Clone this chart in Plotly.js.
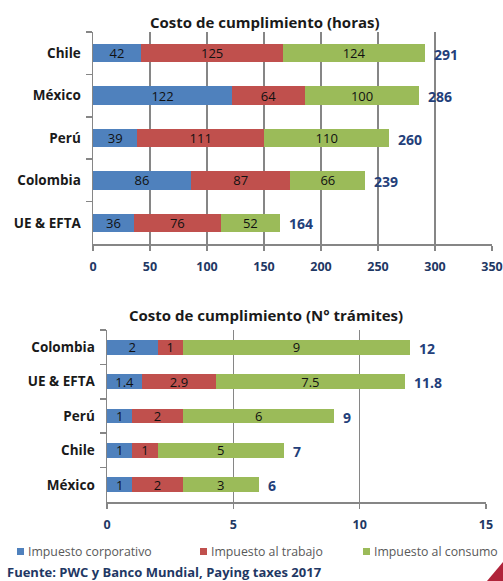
<!DOCTYPE html>
<html><head><meta charset="utf-8">
<script src="https://cdn.plot.ly/plotly-3.0.1.min.js"></script>
<style>body{margin:0;background:#fff}#c{width:503px;height:581px}</style>
</head><body><div id="c"></div>
<script>
// Chart 1: compliance cost in hours
const catsHoras = ["Chile", "México", "Perú", "Colombia", "UE & EFTA"];
const corpHoras = [42, 122, 39, 86, 36];
const trabHoras = [125, 64, 111, 87, 76];
const consHoras = [124, 100, 110, 66, 52];
const totHoras = [291, 286, 260, 239, 164];
// Chart 2: number of procedures
const catsTram = ["Colombia", "UE & EFTA", "Perú", "Chile", "México"];
const corpTram = [2, 1.4, 1, 1, 1];
const trabTram = [1, 2.9, 2, 1, 2];
const consTram = [9, 7.5, 6, 5, 3];
const totTram = [12, 11.8, 9, 7, 6];
const seriesNames = ["Impuesto corporativo", "Impuesto al trabajo", "Impuesto al consumo"];
const ticksHoras = [0, 50, 100, 150, 200, 250, 300, 350];
const ticksTram = [0, 5, 10, 15];

const colors = ["#4F81BD", "#C0504D", "#9BBB59"];
const F = "'Open Sans', sans-serif";
const dark = "#1a1a1a";
const navy = "#1F3864";
const totColor = "#243F7A";

function barTrace(cats, vals, i, xa, ya) {
  return {
    type: "bar", orientation: "h", y: cats, x: vals, name: seriesNames[i],
    xaxis: xa, yaxis: ya, marker: {color: colors[i], line: {width: 0}},
    text: vals.map(String), textposition: "inside", insidetextanchor: "middle", textangle: 0,
    textfont: {family: F, size: 13, color: "#111"}, constraintext: "none",
    showlegend: false, hoverinfo: "x+y+name"
  };
}

const data = [
  barTrace(catsHoras, corpHoras, 0, "x", "y"),
  barTrace(catsHoras, trabHoras, 1, "x", "y"),
  barTrace(catsHoras, consHoras, 2, "x", "y"),
  barTrace(catsTram, corpTram, 0, "x2", "y2"),
  barTrace(catsTram, trabTram, 1, "x2", "y2"),
  barTrace(catsTram, consTram, 2, "x2", "y2")
];

const H = 581, W = 503;
const px = v => v / W, py = v => 1 - v / H;

const xCommon = {showgrid: true, gridcolor: "#868686", gridwidth: 1.5, zeroline: false,
  showline: true, linecolor: "#868686", linewidth: 1.5, ticks: "outside", ticklen: 5,
  tickcolor: "#868686", tickwidth: 1.5, fixedrange: true, ticklabelstandoff: 5,
  tickfont: {family: F, size: 12.5, color: navy, weight: "bold"}};
const yCommon = {type: "category", autorange: "reversed", showline: true, linecolor: "#868686",
  linewidth: 1.5, ticks: "outside", tickson: "boundaries", ticklen: 6, tickcolor: "#868686",
  tickwidth: 1.5, showgrid: false, fixedrange: true, ticklabelstandoff: 8,
  tickfont: {family: F, size: 13.5, color: dark, weight: "bold"}};

const totalAnn = (cats, tots, xr, yr) => cats.map((c, k) => ({
  text: String(tots[k]), x: tots[k], y: c, xref: xr, yref: yr, xanchor: "left",
  xshift: 7, yshift: -1, showarrow: false,
  font: {family: F, size: 14, color: totColor, weight: "bold"}}));

// manual legend (Excel-style small squares)
const legX = [17, 200, 363];
const legendShapes = seriesNames.map((n, i) => ({
  type: "rect", xref: "paper", yref: "paper",
  x0: px(legX[i]), x1: px(legX[i] + 7), y0: py(555), y1: py(548),
  fillcolor: colors[i], line: {width: 0}}));
const legendAnn = seriesNames.map((n, i) => ({
  text: n, xref: "paper", yref: "paper", x: px(legX[i] + 9), y: py(551.5),
  xanchor: "left", yanchor: "middle", showarrow: false,
  font: {family: F, size: 12.3, color: "#595959"}}));

const layout = {
  width: W, height: H, margin: {l: 0, r: 0, t: 0, b: 0},
  paper_bgcolor: "#fff", plot_bgcolor: "rgba(0,0,0,0)",
  barmode: "stack", bargap: 0.57, showlegend: false,
  xaxis: Object.assign({}, xCommon, {domain: [px(93), px(492)], range: [0, 350],
    tickvals: ticksHoras, anchor: "y"}),
  yaxis: Object.assign({}, yCommon, {domain: [py(244), py(32)], anchor: "x"}),
  xaxis2: Object.assign({}, xCommon, {domain: [px(107), px(486)], range: [0, 15],
    tickvals: ticksTram, anchor: "y2"}),
  yaxis2: Object.assign({}, yCommon, {domain: [py(502), py(330)], anchor: "x2"}),
  annotations: [
    {text: "Costo de cumplimiento (horas)", xref: "paper", yref: "paper", x: px(265), y: py(22),
     yanchor: "middle", showarrow: false, font: {family: F, size: 15, color: dark, weight: "bold"}},
    {text: "Costo de cumplimiento (N° trámites)", xref: "paper", yref: "paper", x: px(266), y: py(315),
     yanchor: "middle", showarrow: false, font: {family: F, size: 15, color: dark, weight: "bold"}},
    {text: "Fuente: PWC y Banco Mundial, Paying taxes 2017", xref: "paper", yref: "paper",
     x: px(5), y: py(572), xanchor: "left", yanchor: "middle", showarrow: false,
     font: {family: F, size: 13, color: navy, weight: "bold"}}
  ].concat(totalAnn(catsHoras, totHoras, "x", "y"), totalAnn(catsTram, totTram, "x2", "y2"), legendAnn),
  shapes: [
    {type: "path", xref: "paper", yref: "paper",
     path: `M ${px(503)} ${py(562)} L ${px(503)} ${py(581)} L ${px(487)} ${py(581)} Z`,
     fillcolor: "#B0243A", line: {width: 0}}
  ].concat(legendShapes)
};

Plotly.newPlot("c", data, layout, {displayModeBar: false, staticPlot: true});
</script></body></html>
